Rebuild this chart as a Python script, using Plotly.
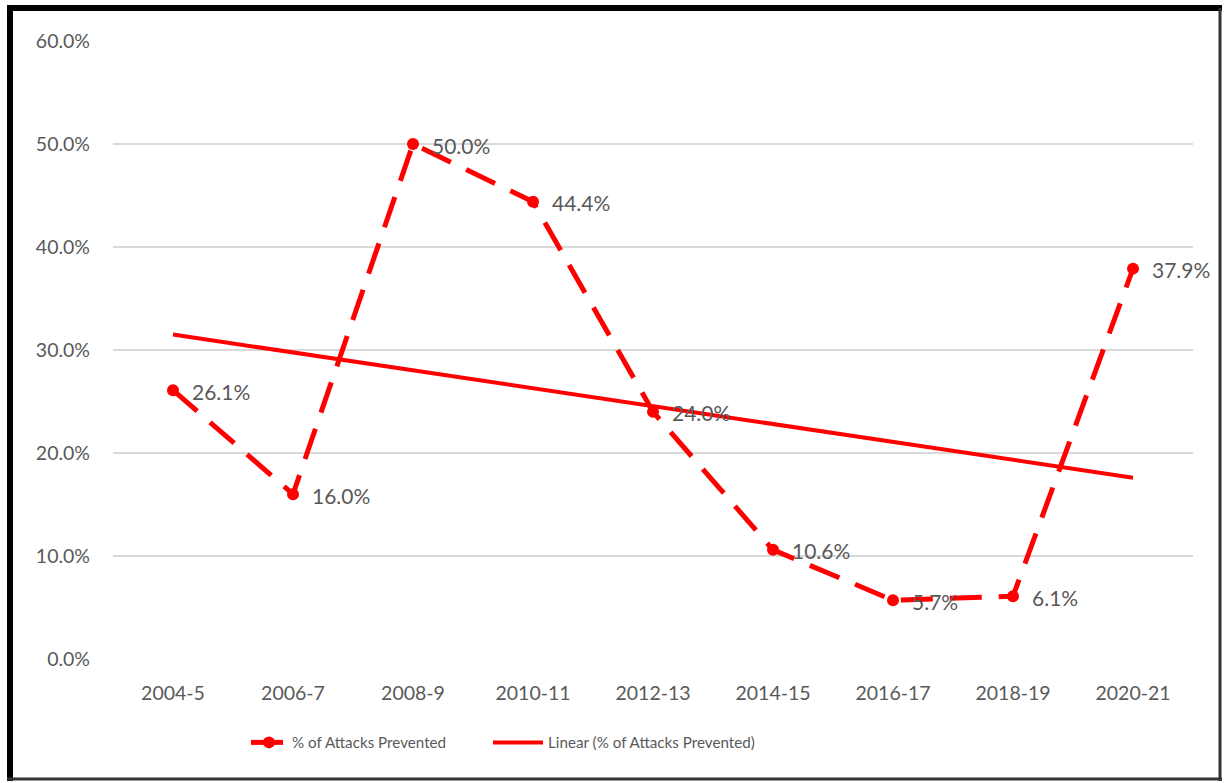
import plotly.graph_objects as go

# Share of attacks prevented, by two-year period
periods = ["2004-5", "2006-7", "2008-9", "2010-11", "2012-13",
           "2014-15", "2016-17", "2018-19", "2020-21"]
prevented_pct = [26.1, 16.0, 50.0, 44.4, 24.0, 10.6, 5.7, 6.1, 37.9]

# Linear trendline endpoints (first and last period)
trend_periods = [periods[0], periods[-1]]
trend_pct = [31.5, 17.6]

y_ticks = [0, 10, 20, 30, 40, 50, 60]

RED = "#FF0000"
GRAY = "#595959"
FONT = "Lato, 'Open Sans', sans-serif"

fig = go.Figure()

fig.add_trace(go.Scatter(
    x=periods, y=prevented_pct,
    mode="lines+markers",
    name="% of Attacks Prevented",
    line=dict(color=RED, width=5, dash="32px,17px"),
    marker=dict(color=RED, size=12),
    legend="legend",
))

fig.add_trace(go.Scatter(
    x=trend_periods, y=trend_pct,
    mode="lines",
    name="Linear (% of Attacks Prevented)",
    line=dict(color=RED, width=4),
    legend="legend2",
))

# value labels to the right of each point
for p, v in zip(periods, prevented_pct):
    fig.add_annotation(
        x=p, y=v, text=f"{v:.1f}%", showarrow=False,
        xanchor="left", yanchor="middle", xshift=17, yshift=-1,
        font=dict(family=FONT, size=21, color=GRAY),
    )

# frame around the whole chart (paper coordinates relative to plot area)
L, R, B, T = 113, 1193, 659, 41
W, H = R - L, B - T
def px(xp):
    return (xp - L) / W
def py(yp):
    return (B - yp) / H

frame = [
    (10, 8, 10, 781, "black", 6),      # left
    (7, 8, 1222, 8, "black", 6),       # top
    (1220, 8, 1220, 781, "#333333", 3),  # right
    (7, 779, 1222, 779, "#333333", 3),   # bottom
]
for x0, y0, x1, y1, c, w in frame:
    fig.add_shape(type="line", xref="paper", yref="paper",
                  x0=px(x0), y0=py(y0), x1=px(x1), y1=py(y1),
                  line=dict(color=c, width=w))

legend_font = dict(family=FONT, size=15.2, color=GRAY)

fig.update_layout(
    width=1224, height=783,
    margin=dict(l=L, r=1224 - R, t=T, b=783 - B),
    paper_bgcolor="white", plot_bgcolor="white",
    font=dict(family=FONT, size=19, color=GRAY),
    showlegend=True,
    legend=dict(orientation="h", x=px(246), xanchor="left", y=py(726), yanchor="top",
                font=legend_font, itemwidth=36),
    legend2=dict(orientation="h", x=px(488), xanchor="left", y=py(726), yanchor="top",
                 font=legend_font, itemwidth=50),
    xaxis=dict(
        type="category", showgrid=False, showline=False, zeroline=False,
        ticks="", tickfont=dict(family=FONT, size=19.5, color=GRAY),
        ticklabelstandoff=20,
        range=[-0.5, len(periods) - 0.5],
    ),
    yaxis=dict(
        range=[0, 60], tickvals=y_ticks,
        ticktext=[f"{t:.1f}%" for t in y_ticks],
        showgrid=True, gridcolor="#D9D9D9", gridwidth=2,
        zeroline=False, showline=False, ticks="",
        ticklabelstandoff=22,
        tickfont=dict(family=FONT, size=19.5, color=GRAY),
    ),
)

fig.write_html("out.html")
